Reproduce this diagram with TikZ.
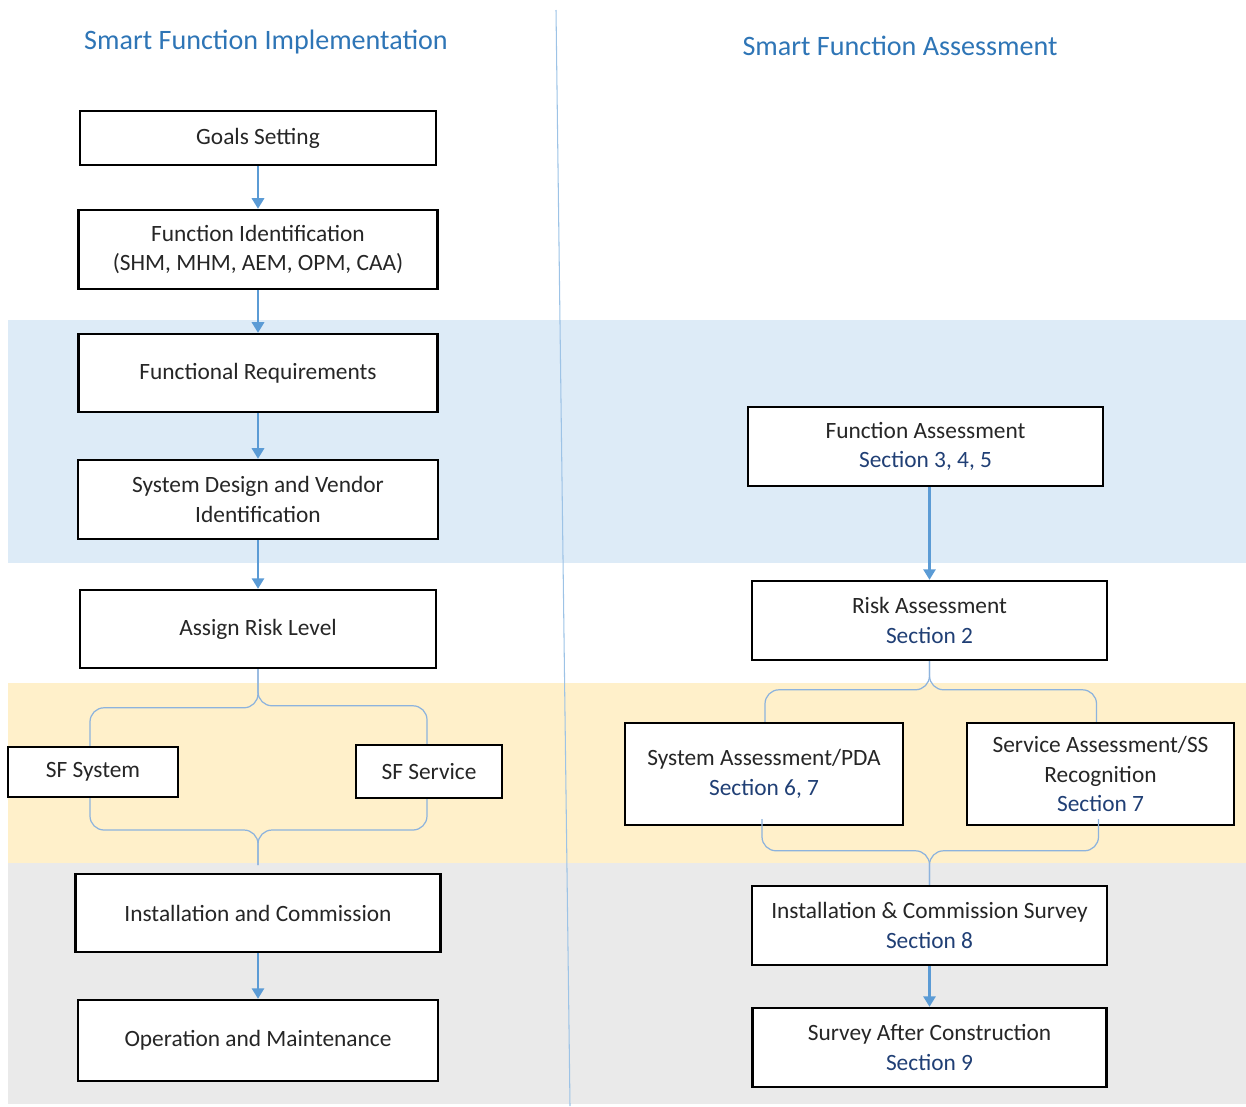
\documentclass[tikz,border=0pt]{standalone}
\usepackage{fontspec}
\setmainfont{Carlito}
\usetikzlibrary{arrows.meta,calc}
\definecolor{bandblue}{HTML}{DDEBF7}
\definecolor{bandyellow}{HTML}{FFF0CA}
\definecolor{bandgray}{HTML}{EAEAEA}
\definecolor{linkblue}{HTML}{5B9BD5}
\definecolor{bracecol}{HTML}{8DB3DD}
\definecolor{titleblue}{HTML}{2E75B6}
\definecolor{secblue}{HTML}{203F75}
\definecolor{boxtext}{HTML}{262626}
\newcommand{\sectxt}[1]{\textcolor{secblue}{#1}}
\tikzset{
	box/.style={draw=black, line width=1.4pt, fill=white, align=center, inner sep=0pt,
		text=boxtext, font=\fontsize{13.3pt}{16.8pt}\selectfont},
	title/.style={text=titleblue, font=\fontsize{16pt}{19pt}\selectfont},
	flow/.style={linkblue, line width=1.2pt, -{Triangle[width=7pt,length=6pt]}},
	brace/.style={bracecol, line width=0.7pt, rounded corners=8pt}
}
\begin{document}
\begin{tikzpicture}[x=0.02cm, y=-0.02cm]
	\useasboundingbox (0,0) rectangle (1246,1106);
	% bands
	\fill[bandblue] (8,320) rectangle (1246,563);
	\fill[bandyellow] (8,683) rectangle (1246,863);
	\fill[bandgray] (8,863) rectangle (1246,1104);
	\draw[color=linkblue!60, line width=0.6pt] (556,10) -- (570,1106);
	% titles
	\node[title] at (266,42) (implttl) {Smart Function Implementation};
	\node[title] at (900,46) (assttl) {Smart Function Assessment};
	% implementation side
	\node[box, minimum width=7.12cm, minimum height=1.08cm] at (258,138) (goals) {Goals Setting};
	\node[box, minimum width=7.18cm, minimum height=1.58cm] at (258,249.5) (funcid) {Function Identification\\(SHM, MHM, AEM, OPM, CAA)};
	\node[box, minimum width=7.18cm, minimum height=1.56cm] at (258,373) (funcreq) {Functional Requirements};
	\node[box, minimum width=7.2cm, minimum height=1.58cm] at (258,499.5) (sysdes) {System Design and Vendor\\Identification};
	\node[box, minimum width=7.12cm, minimum height=1.56cm] at (258,629) (risklvl) {Assign Risk Level};
	\node[box, minimum width=3.4cm, minimum height=1cm] at (93,772) (sfsys) {SF System};
	\node[box, minimum width=2.92cm, minimum height=1.06cm] at (429,771.5) (sfserv) {SF Service};
	\node[box, minimum width=7.3cm, minimum height=1.56cm] at (258,913) (instcomm) {Installation and Commission};
	\node[box, minimum width=7.2cm, minimum height=1.62cm] at (258,1040.5) (opmaint) {Operation and Maintenance};
	\coordinate (ltip) at (258,865);
	% assessment side
	\node[box, minimum width=7.1cm, minimum height=1.58cm] at (925.5,446.5) (funcass) {Function Assessment\\\sectxt{Section 3, 4, 5}};
	\node[box, minimum width=7.1cm, minimum height=1.58cm] at (929.5,620.5) (riskass) {Risk Assessment\\\sectxt{Section 2}};
	\node[box, minimum width=5.56cm, minimum height=2.04cm] at (764,774) (sysass) {System Assessment/PDA\\\sectxt{Section 6, 7}};
	\node[box, minimum width=5.34cm, minimum height=2.04cm] at (1100.5,774) (servass) {Service Assessment/SS\\Recognition\\\sectxt{Section 7}};
	\node[box, minimum width=7.1cm, minimum height=1.58cm] at (929.5,925.5) (instsurv) {Installation \& Commission Survey\\\sectxt{Section 8}};
	\node[box, minimum width=7.08cm, minimum height=1.58cm] at (929.5,1047.5) (aftsurv) {Survey After Construction\\\sectxt{Section 9}};
	% arrows
	\draw[flow] (goals.south) -- (funcid.north);
	\draw[flow] (funcid.south) -- (funcreq.north);
	\draw[flow] (funcreq.south) -- (sysdes.north);
	\draw[flow] (sysdes.south) -- (risklvl.north);
	\draw[flow] (instcomm.south) -- (opmaint.north);
	\draw[flow] (funcass.south -| riskass.north) -- (riskass.north);
	\draw[flow] (instsurv.south) -- (aftsurv.north);
	% braces
	\draw[brace] (risklvl.south) |- ($(sfsys.north)+(-3,-38)$) -- ($(sfsys.north)+(-3,0)$);
	\draw[brace] (risklvl.south) |- ($(sfserv.north)+(-2,-38)$) -- ($(sfserv.north)+(-2,0)$);
	\draw[brace] ($(sfsys.south)+(-3,0)$) |- ($(ltip)+(0,-35)$) -- (ltip);
	\draw[brace] ($(sfserv.south)+(-2,0)$) |- ($(ltip)+(0,-35)$) -- (ltip);
	\draw[brace] (riskass.south) |- ($(sysass.north)+(1,-32)$) -- ($(sysass.north)+(1,0)$);
	\draw[brace] (riskass.south) |- ($(servass.north)+(-4,-32)$) -- ($(servass.north)+(-4,0)$);
	\draw[brace] ($(sysass.south)+(-2,-7)$) |- ($(instsurv.north)+(0,-34)$) -- (instsurv.north);
	\draw[brace] ($(servass.south)+(-2,-7)$) |- ($(instsurv.north)+(0,-34)$) -- (instsurv.north);
\end{tikzpicture}
\end{document}
